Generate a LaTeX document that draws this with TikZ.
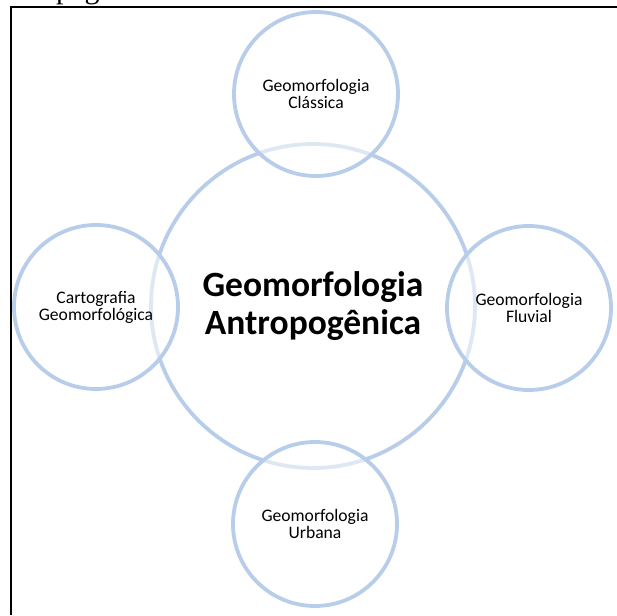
\documentclass[tikz,border=0pt]{standalone}
\usepackage{fontspec}
\setmainfont{Carlito}
\newfontfamily\pageserif{Liberation Serif}
\definecolor{ringblue}{RGB}{184,205,233}
\tikzset{
  ring/.style={circle, draw=ringblue, line width=3.8pt, minimum size=#1, inner sep=0pt, align=center},
  smallring/.style={ring=164pt, fill=white, fill opacity=0.55, text opacity=1},
  smalltxt/.style={font=\fontsize{17.6}{17}\selectfont, text=black},
  bigtxt/.style={font=\fontsize{35.5}{38}\selectfont\bfseries, text=black}
}
\begin{document}
\begin{tikzpicture}[x=1pt,y=1pt]
\useasboundingbox (0,0) rectangle (617,615);
\begin{scope}
\clip (0,0) rectangle (617,615);
\node[anchor=base west, inner sep=0pt, font=\pageserif\fontsize{30}{30}\selectfont] (pg) at (56,616) {página};
\end{scope}
\draw[line width=2.2pt] (11,0) coordinate (bl) -- (11,608) coordinate (tl) -- (620,608) coordinate (tr);
\node[ring=324pt, fill=white] (center) at (313,309) {};
\node[smallring] (top) at (316,521) {};
\node[smallring] (left) at (96,308) {};
\node[smallring] (right) at (529,307) {};
\node[smallring] (bottom) at (315,91) {};
\node[bigtxt, align=center] (ctext) at (center) {Geomorfologia\\Antropogênica};
\node[smalltxt, align=center] (ttext) at (top) {Geomorfologia\\Clássica};
\node[smalltxt, align=center] (ltext) at (left) {Cartografia\\Geomorfológica};
\node[smalltxt, align=center] (rtext) at (right) {Geomorfologia\\Fluvial};
\node[smalltxt, align=center] (btext) at (bottom) {Geomorfologia\\Urbana};
\end{tikzpicture}
\end{document}
